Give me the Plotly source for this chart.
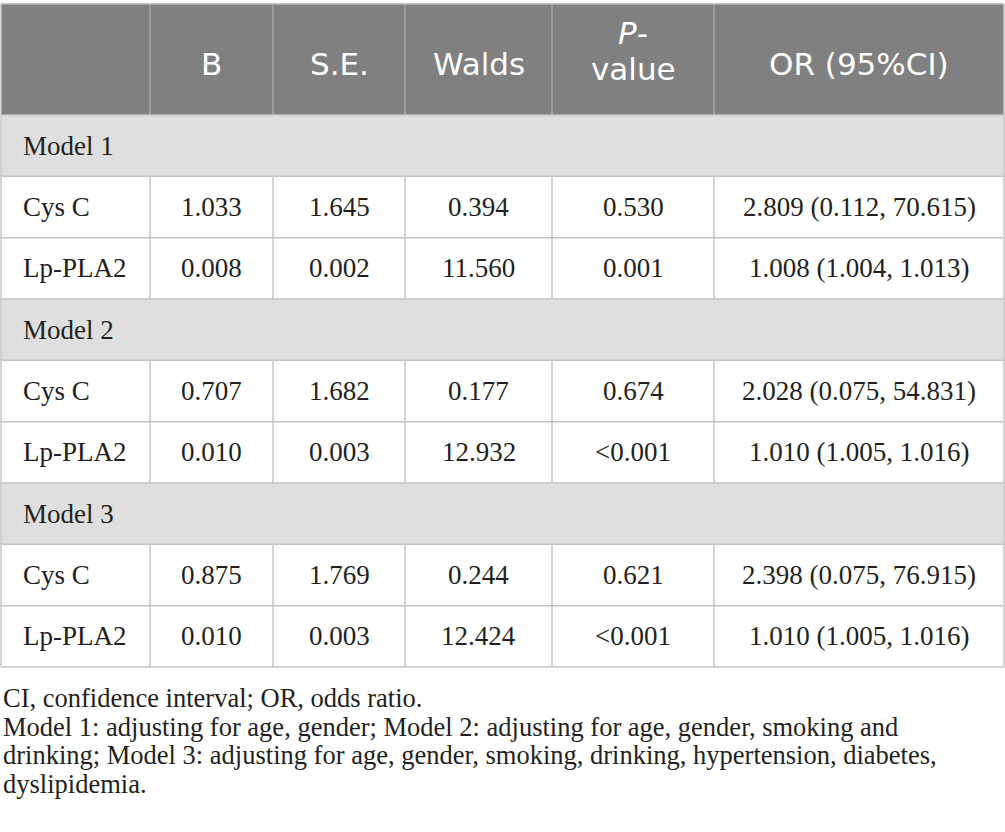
import plotly.graph_objects as go

# table content
header = ["", "B", "S.E.", "Walds", "<i>P</i>-<br>value", "OR (95%CI)"]
models = ["Model 1", "Model 2", "Model 3"]
variables = ["Cys C", "Lp-PLA2"]
b_coef = ["1.033", "0.008", "0.707", "0.010", "0.875", "0.010"]
std_err = ["1.645", "0.002", "1.682", "0.003", "1.769", "0.003"]
walds = ["0.394", "11.560", "0.177", "12.932", "0.244", "12.424"]
p_value = ["0.530", "0.001", "0.674", "<0.001", "0.621", "<0.001"]
odds_ratio = [
    "2.809 (0.112, 70.615)",
    "1.008 (1.004, 1.013)",
    "2.028 (0.075, 54.831)",
    "1.010 (1.005, 1.016)",
    "2.398 (0.075, 76.915)",
    "1.010 (1.005, 1.016)",
]
footnotes = [
    "CI, confidence interval; OR, odds ratio.",
    "Model 1: adjusting for age, gender; Model 2: adjusting for age, gender, smoking and",
    "drinking; Model 3: adjusting for age, gender, smoking, drinking, hypertension, diabetes,",
    "dyslipidemia.",
]

# geometry / styling
W, H = 1005, 832
col_edges = [1, 150, 273, 405, 552, 714, 1004]
top, header_h = 4, 111
n_rows = len(models) * (1 + len(variables))
row_h = (667 - top - header_h) / n_rows
head_fill, model_fill, grid = "#808080", "#e0dfe0", "#c4c4c4"
serif, sans = "Liberation Serif", "DejaVu Sans"
ink = "#231f20"
body_size = 27

# build row list: ("model", label) or ("data", [cells])
rows = []
k = 0
for m in models:
    rows.append(("model", m))
    for v in variables:
        rows.append(("data", [v, b_coef[k], std_err[k], walds[k], p_value[k], odds_ratio[k]]))
        k += 1

fig = go.Figure()
shapes, annotations = [], []
x0, x1 = col_edges[0], col_edges[-1]
head_bot = top + header_h

# header block
shapes.append(dict(type="rect", x0=x0, x1=x1, y0=top, y1=head_bot,
                   fillcolor=head_fill, line=dict(width=0), layer="below"))
for xe in col_edges[1:-1]:
    shapes.append(dict(type="line", x0=xe, x1=xe, y0=top, y1=head_bot,
                       line=dict(color="#a6a6a6", width=1.5)))
for i, label in enumerate(header):
    cx = (col_edges[i] + col_edges[i + 1]) / 2
    lines = label.split("<br>")
    for j, ln in enumerate(lines):
        if len(lines) == 1:
            cy = 64
        else:
            cy = 33 + j * 36
        annotations.append(dict(x=cx, y=cy, text=ln, showarrow=False,
                                xanchor="center", yanchor="middle",
                                font=dict(family=sans, size=31, color="white")))

# body rows
for r, (kind, content) in enumerate(rows):
    ya = head_bot + r * row_h
    yb = ya + row_h
    cy = (ya + yb) / 2
    if kind == "model":
        shapes.append(dict(type="rect", x0=x0, x1=x1, y0=ya, y1=yb,
                           fillcolor=model_fill, line=dict(width=0), layer="below"))
        annotations.append(dict(x=21, y=cy, text=content, showarrow=False,
                                xanchor="left", yanchor="middle",
                                font=dict(family=serif, size=body_size, color=ink)))
    else:
        for xe in col_edges[1:-1]:
            shapes.append(dict(type="line", x0=xe, x1=xe, y0=ya, y1=yb,
                               line=dict(color=grid, width=1.5)))
        for i, txt in enumerate(content):
            if i == 0:
                annotations.append(dict(x=21, y=cy, text=txt, showarrow=False,
                                        xanchor="left", yanchor="middle",
                                        font=dict(family=serif, size=body_size, color=ink)))
            else:
                cx = (col_edges[i] + col_edges[i + 1]) / 2
                annotations.append(dict(x=cx, y=cy, text=txt, showarrow=False,
                                        xanchor="center", yanchor="middle",
                                        font=dict(family=serif, size=body_size, color=ink)))
    shapes.append(dict(type="line", x0=x0, x1=x1, y0=yb, y1=yb,
                       line=dict(color=grid, width=1.5)))

# outer border
shapes.append(dict(type="line", x0=x0, x1=x1, y0=top, y1=top, line=dict(color="#b0b0b0", width=1.5)))
shapes.append(dict(type="line", x0=x0, x1=x1, y0=head_bot, y1=head_bot, line=dict(color=grid, width=1.5)))
shapes.append(dict(type="line", x0=x0, x1=x0, y0=top, y1=667, line=dict(color=grid, width=1.5)))
shapes.append(dict(type="line", x0=x1, x1=x1, y0=top, y1=667, line=dict(color=grid, width=1.5)))

# footnotes
for j, note in enumerate(footnotes):
    annotations.append(dict(x=1, y=698 + j * 28.5, text=note, showarrow=False,
                            xanchor="left", yanchor="middle",
                            font=dict(family=serif, size=26.5, color=ink)))

fig.update_layout(
    width=W, height=H,
    margin=dict(l=0, r=0, t=0, b=0),
    paper_bgcolor="white", plot_bgcolor="white",
    xaxis=dict(range=[0, W], visible=False, fixedrange=True),
    yaxis=dict(range=[H, 0], visible=False, fixedrange=True),
    shapes=shapes, annotations=annotations,
    showlegend=False,
)

# drop the default page margin so the figure fills the window
fig.write_html(
    "out.html",
    config={"displayModeBar": False},
    post_script="document.body.style.margin='0';",
)
